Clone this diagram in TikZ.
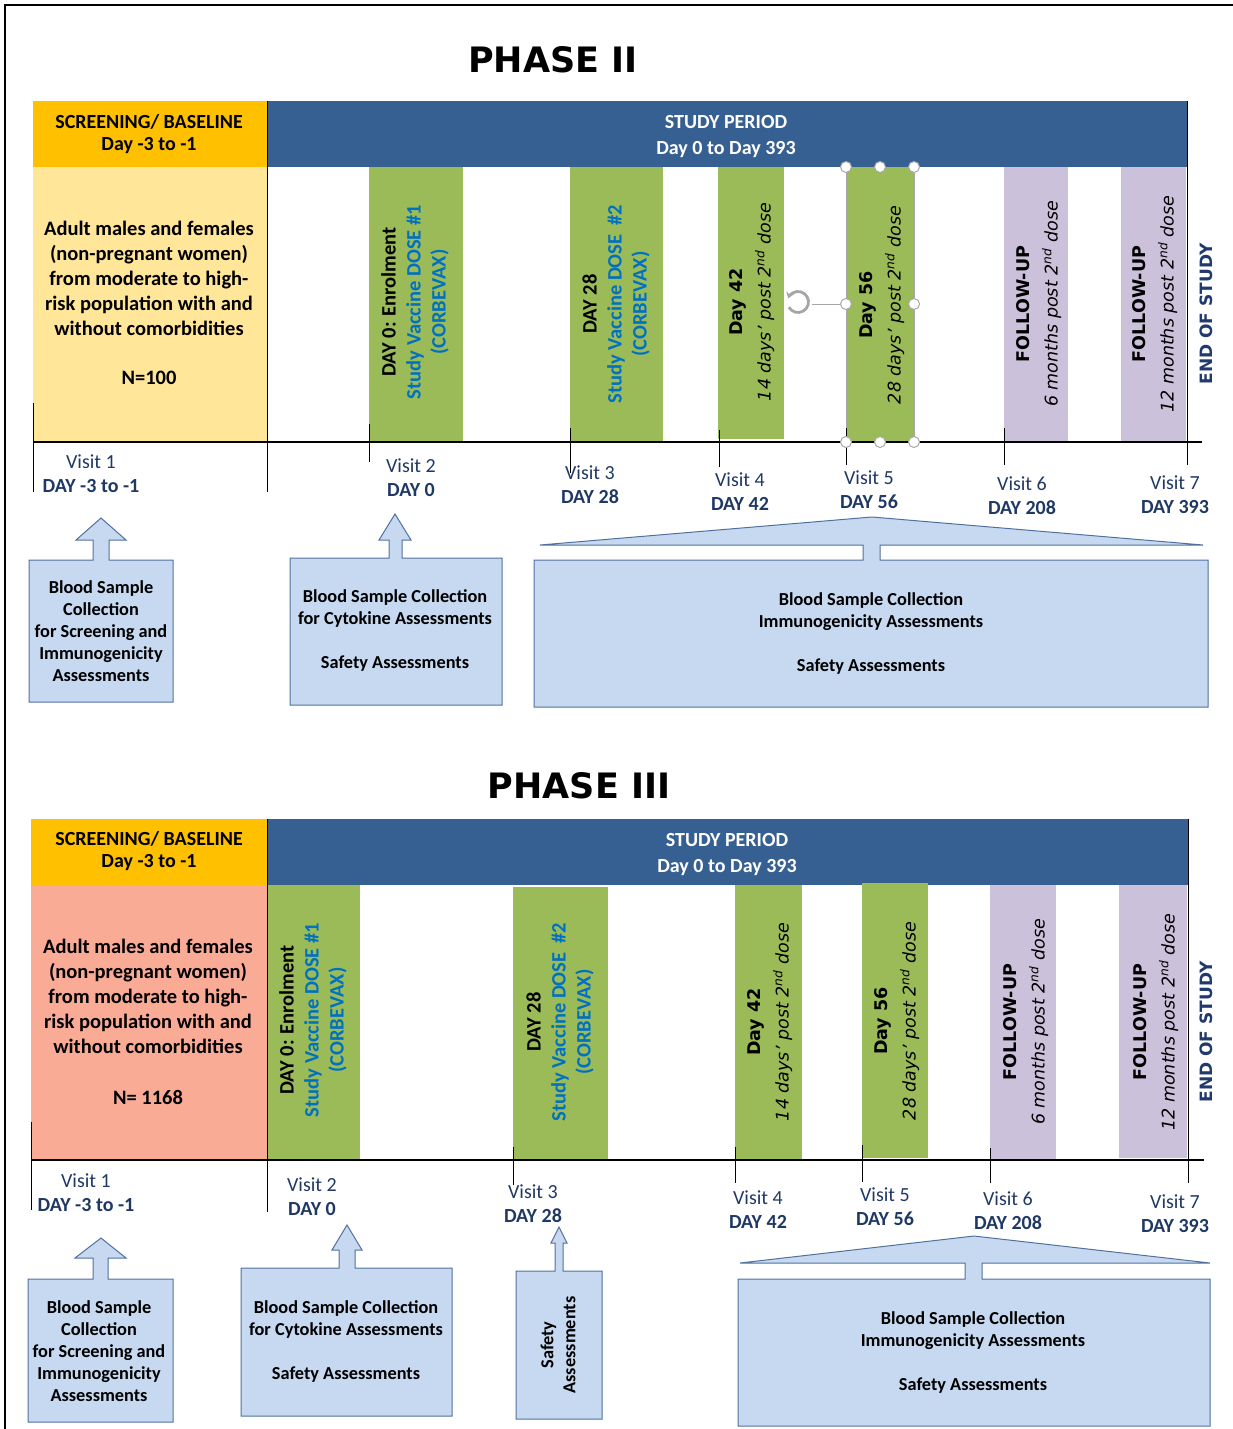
\documentclass[tikz,border=0pt]{standalone}
\usepackage{fontspec}
\setmainfont{Carlito}
\newfontfamily\vfont{DejaVu Sans}
\usetikzlibrary{arrows.meta}
\definecolor{cyel}{HTML}{FFC000}
\definecolor{cblue}{HTML}{376092}
\definecolor{clyel}{HTML}{FFE699}
\definecolor{csalmon}{HTML}{FAAB96}
\definecolor{cgreen}{HTML}{9BBB59}
\definecolor{clil}{HTML}{CCC1DA}
\definecolor{ccfill}{HTML}{C6D9F1}
\definecolor{ccline}{HTML}{52709E}
\definecolor{cnavy}{HTML}{1F3864}
\definecolor{cend}{HTML}{203A70}
\definecolor{cvac}{HTML}{0070C0}
\definecolor{cgray}{HTML}{A6A6A6}
\begin{document}
\begin{tikzpicture}[x=1pt,y=-1pt,
  lbl/.style={inner sep=0pt, outer sep=0pt, align=center},
  titl/.style={lbl, font=\vfont\bfseries\fontsize{35}{40}\selectfont},
  dsc/.style={lbl, font=\bfseries\fontsize{20.5}{25}\selectfont},
  hdr/.style={lbl, font=\bfseries\fontsize{20}{24}\selectfont},
  vis/.style={lbl, text=cnavy, font=\fontsize{20}{24}\selectfont},
  dose/.style={lbl, rotate=90, font=\bfseries\fontsize{20.5}{25}\selectfont},
  dayt/.style={lbl, rotate=90, font=\vfont\fontsize{17.5}{28}\selectfont},
  endt/.style={lbl, rotate=90, text=cend, font=\vfont\bfseries\fontsize{17}{20}\selectfont},
  cbox/.style={fill=ccfill, draw=ccline, line width=1pt},
  ctext/.style={lbl, font=\bfseries\fontsize{18.3}{22}\selectfont},
  hdl/.style={circle, draw=cgray, fill=white, line width=1pt, minimum size=11pt, inner sep=0pt},
  tickl/.style={line width=1pt},
  axisl/.style={line width=1.4pt}]
\useasboundingbox (0,0) rectangle (1233,1429);
% frame
\draw[line width=2.6pt] (5,1429) -- (5,5) -- (1233,5);

%================ PHASE II ================
\node[titl] (t2) at (553,60) {PHASE II};
\fill[cyel] (33,101) rectangle (267,167);
\fill[cblue] (267,101) rectangle (1187,167);
\fill[clyel] (33,167) rectangle (267,442);
\fill[cgreen] (369,167) rectangle (463,442);
\fill[cgreen] (570,167) rectangle (663,442);
\fill[cgreen] (718,167) rectangle (784,439);
\fill[cgreen] (846,167) rectangle (914,442);
\draw[cgray, line width=0.8pt] (846,167) rectangle (914,442);
\fill[clil] (1004,167) rectangle (1068,442);
\fill[clil] (1121,167) rectangle (1186,442);

\draw[axisl] (33,442) -- (1202,442);
\draw[tickl] (267,101) -- (267,492);
\draw[tickl] (33,403) -- (33,492);
\draw[tickl] (1187,101) -- (1187,465);
\draw[tickl] (369,424) -- (369,462);
\draw[tickl] (570,428) -- (570,473);
\draw[tickl] (719,430) -- (719,467);
\draw[tickl] (846,428) -- (846,465);
\draw[tickl] (1004,428) -- (1004,465);

\node[hdr] (s2a) at (149,122) {SCREENING/ BASELINE};
\node[hdr] (s2b) at (149,146) {Day -3 to -1};
\node[hdr, text=white] (p2a) at (726,122) {STUDY PERIOD};
\node[hdr, text=white] (p2b) at (726,150) {Day 0 to Day 393};
\node[dsc] (d2) at (149,278) {Adult males and females\\(non-pregnant women)\\from moderate to high-\\risk population with and\\without comorbidities};
\node[dsc] (n2) at (149,378) {N=100};

\node[dose] (b2a) at (415,302) {DAY 0: Enrolment\\\textcolor{cvac}{Study Vaccine DOSE \#1}\\\textcolor{cvac}{(CORBEVAX)}};
\node[dose] (b2b) at (616,304) {DAY 28\\\textcolor{cvac}{Study Vaccine DOSE\ \ \#2}\\\textcolor{cvac}{(CORBEVAX)}};
\node[dayt] (b2c) at (752,302) {{\bfseries Day 42}\\{\itshape 14 days’ post 2\textsuperscript{nd} dose}};
\node[dayt] (b2d) at (882,305) {{\bfseries Day 56}\\{\itshape 28 days’ post 2\textsuperscript{nd} dose}};
\node[dayt] (b2e) at (1039,304) {{\bfseries FOLLOW-UP}\\{\itshape 6 months post 2\textsuperscript{nd} dose}};
\node[dayt] (b2f) at (1155,304) {{\bfseries FOLLOW-UP}\\{\itshape 12 months post 2\textsuperscript{nd} dose}};
\node[endt] (e2) at (1206,314) {END OF STUDY};

% selection handles
\node[hdl] (h1) at (846,167) {};
\node[hdl] (h2) at (880,167) {};
\node[hdl] (h3) at (914,167) {};
\node[hdl] (h4) at (846,304) {};
\node[hdl] (h5) at (914,304) {};
\node[hdl] (h6) at (846,442) {};
\node[hdl] (h7) at (880,442) {};
\node[hdl] (h8) at (914,442) {};
\coordinate (rot) at (798,302);
\draw[cgray, line width=1pt] (812,304) -- (h4);
\draw[cgray, line width=2.8pt, -{Stealth[length=6pt,width=8pt]}] (rot) ++(150:10.5) arc[start angle=150, end angle=-160, radius=10.5];

\node[vis] (v21) at (91,474) {Visit 1\\\textbf{DAY -3 to -1}};
\node[vis] (v22) at (411,478) {Visit 2\\\textbf{DAY 0}};
\node[vis] (v23) at (590,485) {Visit 3\\\textbf{DAY 28}};
\node[vis] (v24) at (740,492) {Visit 4\\\textbf{DAY 42}};
\node[vis] (v25) at (869,490) {Visit 5\\\textbf{DAY 56}};
\node[vis] (v26) at (1022,496) {Visit 6\\\textbf{DAY 208}};
\node[vis] (v27) at (1175,495) {Visit 7\\\textbf{DAY 393}};

% callouts phase II
\draw[cbox] (29,560) -- (93,560) -- (93,540) -- (76,540) -- (101,518) -- (126,540) -- (109,540) -- (109,560) -- (173,560) -- (173,702) -- (29,702) -- cycle;
\node[ctext] (c2a) at (101,631) {Blood Sample\\Collection\\for Screening and\\Immunogenicity\\Assessments};
\draw[cbox] (290,558) -- (389,558) -- (389,540) -- (379,540) -- (395,514) -- (411,540) -- (402,540) -- (402,558) -- (502,558) -- (502,705) -- (290,705) -- cycle;
\node[ctext] (c2b) at (395,630) {Blood Sample Collection\\for Cytokine Assessments\\[22pt]Safety Assessments};
\draw[cbox] (534,560) -- (863,560) -- (863,545) -- (540,545) -- (872,517) -- (1203,545) -- (880,545) -- (880,560) -- (1208,560) -- (1208,707) -- (534,707) -- cycle;
\node[ctext] (c2c) at (871,633) {Blood Sample Collection\\Immunogenicity Assessments\\[22pt]Safety Assessments};

%================ PHASE III ================
\node[titl] (t3) at (579,786) {PHASE III};
\fill[cyel] (31,819) rectangle (267,885);
\fill[cblue] (267,819) rectangle (1188,885);
\fill[csalmon] (31,885) rectangle (267,1160);
\fill[cgreen] (267,885) rectangle (360,1160);
\fill[cgreen] (513,887) rectangle (608,1160);
\fill[cgreen] (735,885) rectangle (802,1160);
\fill[cgreen] (862,883) rectangle (928,1158);
\fill[clil] (990,885) rectangle (1056,1160);
\fill[clil] (1119,885) rectangle (1187,1158);

\draw[axisl] (31,1160) -- (1204,1160);
\draw[tickl] (267,819) -- (267,1212);
\draw[tickl] (31,1122) -- (31,1210);
\draw[tickl] (1188,819) -- (1188,1183);
\draw[tickl] (513,1147) -- (513,1185);
\draw[tickl] (735,1147) -- (735,1183);
\draw[tickl] (862,1145) -- (862,1182);
\draw[tickl] (990,1148) -- (990,1183);

\node[hdr] (s3a) at (149,839) {SCREENING/ BASELINE};
\node[hdr] (s3b) at (149,863) {Day -3 to -1};
\node[hdr, text=white] (p3a) at (727,840) {STUDY PERIOD};
\node[hdr, text=white] (p3b) at (727,868) {Day 0 to Day 393};
\node[dsc] (d3) at (148,996) {Adult males and females\\(non-pregnant women)\\from moderate to high-\\risk population with and\\without comorbidities};
\node[dsc] (n3) at (148,1097) {N= 1168};

\node[dose] (b3a) at (313,1020) {DAY 0: Enrolment\\\textcolor{cvac}{Study Vaccine DOSE \#1}\\\textcolor{cvac}{(CORBEVAX)}};
\node[dose] (b3b) at (560,1022) {DAY 28\\\textcolor{cvac}{Study Vaccine DOSE\ \ \#2}\\\textcolor{cvac}{(CORBEVAX)}};
\node[dayt] (b3c) at (770,1022) {{\bfseries Day 42}\\{\itshape 14 days’ post 2\textsuperscript{nd} dose}};
\node[dayt] (b3d) at (897,1021) {{\bfseries Day 56}\\{\itshape 28 days’ post 2\textsuperscript{nd} dose}};
\node[dayt] (b3e) at (1026,1022) {{\bfseries FOLLOW-UP}\\{\itshape 6 months post 2\textsuperscript{nd} dose}};
\node[dayt] (b3f) at (1156,1022) {{\bfseries FOLLOW-UP}\\{\itshape 12 months post 2\textsuperscript{nd} dose}};
\node[endt] (e3) at (1206,1032) {END OF STUDY};

\node[vis] (v31) at (86,1193) {Visit 1\\\textbf{DAY -3 to -1}};
\node[vis] (v32) at (312,1197) {Visit 2\\\textbf{DAY 0}};
\node[vis] (v33) at (533,1204) {Visit 3\\\textbf{DAY 28}};
\node[vis] (v34) at (758,1210) {Visit 4\\\textbf{DAY 42}};
\node[vis] (v35) at (885,1207) {Visit 5\\\textbf{DAY 56}};
\node[vis] (v36) at (1008,1211) {Visit 6\\\textbf{DAY 208}};
\node[vis] (v37) at (1175,1214) {Visit 7\\\textbf{DAY 393}};

% callouts phase III
\draw[cbox] (28,1279) -- (93,1279) -- (93,1258) -- (75,1258) -- (101,1238) -- (126,1258) -- (108,1258) -- (108,1279) -- (173,1279) -- (173,1422) -- (28,1422) -- cycle;
\node[ctext] (c3a) at (99,1351) {Blood Sample\\Collection\\for Screening and\\Immunogenicity\\Assessments};
\draw[cbox] (241,1268) -- (339,1268) -- (339,1250) -- (332,1250) -- (347,1225) -- (362,1250) -- (355,1250) -- (355,1268) -- (452,1268) -- (452,1416) -- (241,1416) -- cycle;
\node[ctext] (c3b) at (346,1341) {Blood Sample Collection\\for Cytokine Assessments\\[22pt]Safety Assessments};
\draw[cbox] (516,1271) -- (555,1271) -- (555,1243) -- (551,1243) -- (559,1227) -- (567,1243) -- (563,1243) -- (563,1271) -- (602,1271) -- (602,1419) -- (516,1419) -- cycle;
\node[ctext, rotate=90] (c3c) at (558,1345) {Safety\\Assessments};
\draw[cbox] (738,1279) -- (965,1279) -- (965,1263) -- (740,1263) -- (974,1236) -- (1210,1263) -- (982,1263) -- (982,1279) -- (1210,1279) -- (1210,1426) -- (738,1426) -- cycle;
\node[ctext] (c3d) at (973,1352) {Blood Sample Collection\\Immunogenicity Assessments\\[22pt]Safety Assessments};
\end{tikzpicture}
\end{document}
